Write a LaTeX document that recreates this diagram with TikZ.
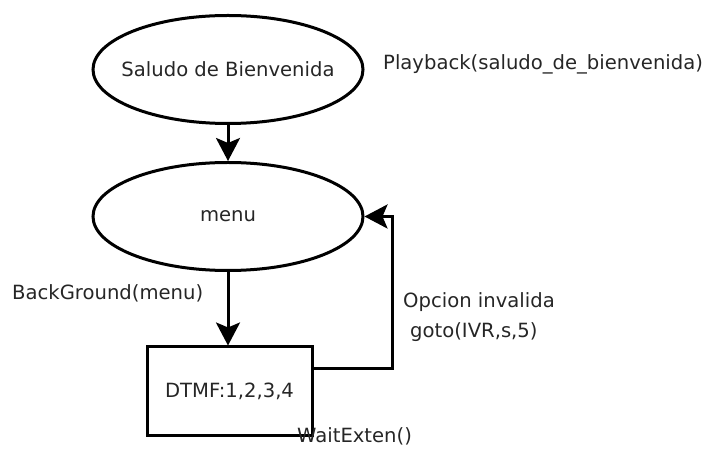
\documentclass[tikz,border=0pt]{standalone}
\usepackage{fontspec}
\setmainfont{DejaVu Sans}
\usetikzlibrary{arrows.meta,shapes.geometric}
\begin{document}
\begin{tikzpicture}[x=1bp,y=-1bp,
  every node/.style={font=\fontsize{19.6bp}{23bp}\selectfont, text=black!85, inner sep=0pt},
  every label/.style={font=\fontsize{19.6bp}{23bp}\selectfont, text=black!85, inner sep=0pt},
  state/.style={draw=black, line width=3bp, ellipse, minimum width=270bp, minimum height=108bp},
  waitbox/.style={draw=black, line width=3bp, rectangle, minimum width=165bp, minimum height=88bp},
  link/.style={draw=black, line width=3bp, -{Stealth[length=23bp,width=24bp,inset=5bp]}},
  note/.style={anchor=base west}]
  \useasboundingbox (0,0) rectangle (707,453);
  % states (text as centred labels so the ellipse keeps its size)
  \node[state, label=center:{Saludo de Bienvenida}] (saludo) at (228,69.5) {};
  \node[state, label=center:{menu}] (menu) at (228,216.5) {};
  \node[waitbox] (dtmf) at (229.5,391) {DTMF:1,2,3,4};
  % flow
  \draw[link] (saludo.south) -- (menu.north);
  \draw[link] (menu.south) -- (menu.south |- dtmf.north);
  \coordinate (back) at (392,368);
  \draw[link] (dtmf.east |- back) -- (back) |- (menu.east);
  % annotations
  \node[note] (playback) at (383,70) {Playback(saludo\_de\_bienvenida)};
  \node[note] (background) at (12,300) {BackGround(menu)};
  \node[note] (invalida) at (403,308) {Opcion invalida};
  \node[note] (goto) at (410,338) {goto(IVR,s,5)};
  \node[note] (wait) at (297,442) {WaitExten()};
\end{tikzpicture}
\end{document}
